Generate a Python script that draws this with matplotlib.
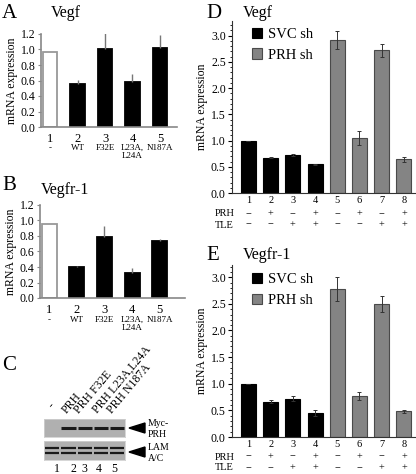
import numpy as np
import matplotlib
matplotlib.use("Agg")
import matplotlib.pyplot as plt
import matplotlib.transforms as mtransforms
from matplotlib.patches import Polygon
from matplotlib.ticker import MultipleLocator, FormatStrFormatter

plt.rcParams['font.family'] = ['Liberation Serif', 'DejaVu Serif']

# ---- data ----
mut_numbers = ["1", "2", "3", "4", "5"]
mut_names = ["-", "WT", "F32E", "L23A,\nL24A", "N187A"]
vegf_mut = [0.97, 0.56, 1.01, 0.58, 1.02]
vegf_mut_err = [0.0, 0.05, 0.25, 0.11, 0.17]
vegfr1_mut = [0.96, 0.40, 0.79, 0.32, 0.73]
vegfr1_mut_err = [0.0, 0.01, 0.14, 0.07, 0.03]

kd_numbers = ["1", "2", "3", "4", "5", "6", "7", "8"]
kd_group = ["SVC sh"] * 4 + ["PRH sh"] * 4
prh_added = [0, 1, 0, 1, 0, 1, 0, 1]
tle_added = [0, 0, 1, 1, 0, 0, 1, 1]
vegf_kd = [1.00, 0.67, 0.73, 0.55, 2.92, 1.05, 2.72, 0.64]
vegf_kd_err = [0.0, 0.01, 0.02, 0.01, 0.17, 0.13, 0.13, 0.05]
vegfr1_kd = [1.00, 0.66, 0.72, 0.45, 2.78, 0.77, 2.49, 0.48]
vegfr1_kd_err = [0.0, 0.03, 0.05, 0.06, 0.22, 0.08, 0.15, 0.03]

blot_lanes = ["-", "PRH", "PRH F32E", "PRH L23A,L24A", "PRH N187A"]
myc_prh_band = [0, 1, 1, 1, 1]
lamin_band = [1, 1, 1, 1, 1]

W, H = 416, 474
fig = plt.figure(figsize=(W / 100, H / 100), dpi=100)


def box(x0, y0, x1, y1):
    return [x0 / W, 1 - y1 / H, (x1 - x0) / W, (y1 - y0) / H]


def fx(x):
    return x / W


def fy(y):
    return 1 - y / H


def mutant_panel(rect, vals, errs, xright, title, title_xy, name_y):
    ax = fig.add_axes(rect)
    x = np.arange(len(vals))
    colors = ["white"] + ["black"] * (len(vals) - 1)
    edges = ["#999999"] + ["black"] * (len(vals) - 1)
    ax.bar(x, vals, width=0.54, color=colors, edgecolor=edges, linewidth=1.3)
    ax.errorbar(x, vals, yerr=[np.zeros(len(errs)), errs], fmt="none",
                ecolor="#777777", elinewidth=1.0, capsize=0)
    ax.set_xlim(-0.33, xright)
    ax.set_ylim(0, 1.2)
    ax.yaxis.set_major_locator(MultipleLocator(0.2))
    ax.yaxis.set_major_formatter(FormatStrFormatter("%.1f"))
    ax.set_xticks(x, labels=mut_numbers)
    ax.tick_params(axis="x", length=0, pad=4, labelsize=9)
    ax.tick_params(axis="y", length=2.5, pad=1.5, labelsize=8.5,
                   color="#888888")
    for s in ["top", "right"]:
        ax.spines[s].set_visible(False)
    for s in ["left", "bottom"]:
        ax.spines[s].set_color("#888888")
        ax.spines[s].set_linewidth(1.2)
    ax.set_ylabel("mRNA expression", fontsize=8.5, labelpad=2)
    trans = mtransforms.blended_transform_factory(ax.transData, fig.transFigure)
    for xi, name in zip(x, mut_names):
        ax.text(xi, fy(name_y), name, transform=trans, ha="center", va="top",
                fontsize=6.5, linespacing=1.0)
    fig.text(fx(title_xy[0]), fy(title_xy[1]), title, ha="center",
             va="center", fontsize=11.5)
    return ax


def kd_panel(rect, vals, errs, ytop, title, title_xy, leg_xy, row_y):
    ax = fig.add_axes(rect)
    x = np.arange(len(vals))
    svc = [i for i, g in enumerate(kd_group) if g == "SVC sh"]
    prh = [i for i, g in enumerate(kd_group) if g == "PRH sh"]
    ax.bar(x[svc], np.take(vals, svc), width=0.68, color="black",
           edgecolor="black", linewidth=0.8, label="SVC sh")
    ax.bar(x[prh], np.take(vals, prh), width=0.68, color="#848484",
           edgecolor="#4a4a4a", linewidth=0.8, label="PRH sh")
    ax.errorbar(x, vals, yerr=errs, fmt="none", ecolor="#333333",
                elinewidth=0.7, capsize=1.5, capthick=0.7)
    ax.set_xlim(-0.74, 7.5)
    ax.set_ylim(0, ytop)
    ax.yaxis.set_major_locator(MultipleLocator(0.5))
    ax.yaxis.set_minor_locator(MultipleLocator(0.1))
    ax.yaxis.set_major_formatter(FormatStrFormatter("%.1f"))
    ax.set_xticks(x, labels=kd_numbers)
    ax.tick_params(axis="x", length=0, pad=2, labelsize=7.5)
    ax.tick_params(axis="y", which="major", length=3, pad=1.5, labelsize=8.5)
    ax.tick_params(axis="y", which="minor", length=1.5)
    for s in ["top", "right"]:
        ax.spines[s].set_visible(False)
    for s in ["left", "bottom"]:
        ax.spines[s].set_color("#333333")
        ax.spines[s].set_linewidth(0.8)
    ax.set_ylabel("mRNA expression", fontsize=8.5, labelpad=2)
    ax.legend(loc="upper left", bbox_to_anchor=(fx(leg_xy[0]), fy(leg_xy[1])),
              bbox_transform=fig.transFigure, frameon=False, fontsize=10.5,
              handlelength=0.7, handleheight=0.7, handletextpad=0.4,
              labelspacing=0.5, borderpad=0, borderaxespad=0)
    trans = mtransforms.blended_transform_factory(ax.transData, fig.transFigure)
    for name, flags, yy in [("PRH", prh_added, row_y), ("TLE", tle_added, row_y + 11)]:
        fig.text(fx(215), fy(yy), name, ha="left", va="center", fontsize=7.5)
        for xi, f in zip(x, flags):
            ax.text(xi, fy(yy), "+" if f else "\u2212", transform=trans,
                    ha="center", va="center", fontsize=7.5)
    fig.text(fx(title_xy[0]), fy(title_xy[1]), title, ha="center",
             va="center", fontsize=11.5)
    return ax


mutant_panel(box(41, 34, 177, 127), vegf_mut, vegf_mut_err, 4.62,
             "Vegf", (66, 13), 144)
mutant_panel(box(40, 205, 185, 298), vegfr1_mut, vegfr1_mut_err, 4.91,
             "Vegfr-1", (65, 190), 316)

kd_panel(box(232, 21, 415, 193), vegf_kd, vegf_kd_err, 3.28,
         "Vegf", (258, 13), (252, 28), 214)
kd_panel(box(232, 265, 415, 437), vegfr1_kd, vegfr1_kd_err, 3.23,
         "Vegfr-1", (267, 255), (252, 273), 457)

# ---- panel C: western blot ----
def blot_strip(rect, band, offsets, lw):
    ax = fig.add_axes(rect)
    ax.set_facecolor("#b0b0b0")
    ax.set_xlim(0, len(band))
    ax.set_ylim(0, 1)
    for i, v in enumerate(band):
        if v:
            for off in offsets:
                ax.plot([i + 0.08, i + 0.95], [off, off], color="#1a1a1a",
                        lw=lw, solid_capstyle="butt")
    ax.set_xticks([])
    ax.set_yticks([])
    for s in ax.spines.values():
        s.set_color("#d0d0d0")
        s.set_linewidth(0.6)
    return ax


blot_strip(box(44, 419, 125, 437), myc_prh_band, [0.5], 2.2)
blot_strip(box(44, 441, 125, 460), lamin_band, [0.62, 0.38], 1.6)

lane_label_xy = [(53, 409), (67, 414), (79, 414), (97, 414), (112, 414)]
for (lx, ly), name in zip(lane_label_xy, blot_lanes):
    fig.text(fx(lx), fy(ly), name, rotation=50, rotation_mode="anchor",
             ha="left", va="baseline", fontsize=8.5)

lane_num_x = [57, 73, 84, 99, 114]
for i, lx in enumerate(lane_num_x):
    fig.text(fx(lx), fy(469), str(i + 1), ha="center", va="center",
             fontsize=8.5)

for ycen, lbl in [(428, "Myc-\nPRH"), (452, "LAM\nA/C")]:
    tri = Polygon([(fx(129), fy(ycen)), (fx(145), fy(ycen - 5)),
                   (fx(145), fy(ycen + 5))], closed=True, color="black",
                  transform=fig.transFigure)
    fig.add_artist(tri)
    fig.text(fx(148), fy(ycen + 1), lbl, ha="left", va="center",
             fontsize=7, linespacing=1.3)

# panel letters
for letter, (lx, ly) in {"A": (2, 13), "B": (2, 186), "C": (2, 365),
                         "D": (206, 13), "E": (206, 256)}.items():
    fig.text(fx(lx), fy(ly), letter, ha="left", va="center", fontsize=15)

fig.savefig("out.png", dpi=100)
